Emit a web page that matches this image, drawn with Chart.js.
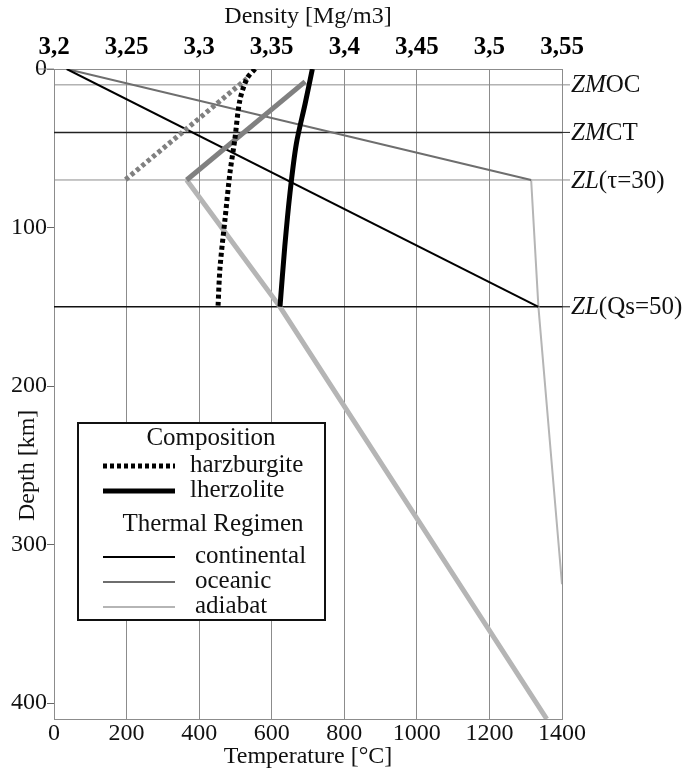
<!DOCTYPE html>
<html>
<head>
<meta charset="utf-8">
<script src="https://cdn.jsdelivr.net/npm/chart.js@4.4.1/dist/chart.umd.min.js"></script>
<style>
  html, body { margin: 0; padding: 0; background: #fff; }
  #wrap { width: 691px; height: 772px; }
</style>
</head>
<body>
<div id="wrap"><canvas id="geotherm" width="691" height="772"></canvas></div>
<script>
// tick labels
const tempTicks = [0, 200, 400, 600, 800, 1000, 1200, 1400];
const densityTicks = [3.2, 3.25, 3.3, 3.35, 3.4, 3.45, 3.5, 3.55];
const depthTicks = [0, 100, 200, 300, 400];

// reference depths (km) and their labels on the right
const refDepths = [10, 40, 70, 150];
const refLabels = [
  [["ZM", "italic"], ["OC", ""]],
  [["ZM", "italic"], ["CT", ""]],
  [["ZL", "italic"], ["(τ=30)", ""]],
  [["ZL", "italic"], ["(Qs=50)", ""]]
];

// thermal regimes: temperature (°C) vs depth (km)
const contDepth = [0, 150];
const contTemp = [35, 1335];
const oceDepth = [0, 70];
const oceTemp = [35, 1315];
const adiDepth = [70, 150, 325];
const adiTemp = [1315, 1335, 1400];

// density profiles (Mg/m3) vs depth (km)
const harzDepth = [0, 6, 20, 45, 65, 95, 125, 150];
const harzRho = [3.3385, 3.333, 3.328, 3.3245, 3.3213, 3.3178, 3.3144, 3.313];
const lherzDepth = [0, 22, 47, 78, 112, 150];
const lherzRho = [3.378, 3.373, 3.367, 3.3626, 3.359, 3.3557];
const harzOcDepth = [6, 70];
const harzOcRho = [3.333, 3.249];
const lherzOcDepth = [8, 70];
const lherzOcRho = [3.373, 3.2914];
const adiRhoDepth = [70, 150, 410];
const adiRho = [3.2914, 3.3557, 3.5395];

const SERIF = "'Liberation Serif', 'Times New Roman', serif";
const GRID = '#8c8c8c';
const OCE = '#6e6e6e';
const ADI = '#b5b5b5';

function pts(xs, ys) { return xs.map((x, i) => ({ x: x, y: ys[i] })); }
function comma(v) { return String(Math.round(v * 100) / 100).replace('.', ','); }

const base = { showLine: true, pointRadius: 0, fill: false, borderCapStyle: 'butt', tension: 0 };

const datasets = [
  Object.assign({}, base, { label: 'harzburgite', xAxisID: 'xD', data: pts(harzRho, harzDepth),
    borderColor: '#000', borderWidth: 5, borderDash: [4, 3], tension: 0.3 }),
  Object.assign({}, base, { label: 'lherzolite', xAxisID: 'xD', data: pts(lherzRho, lherzDepth),
    borderColor: '#000', borderWidth: 5, tension: 0.3 }),
  Object.assign({}, base, { label: 'harzburgite oc', xAxisID: 'xD', data: pts(harzOcRho, harzOcDepth),
    borderColor: '#808080', borderWidth: 5, borderDash: [4, 3] }),
  Object.assign({}, base, { label: 'lherzolite oc', xAxisID: 'xD', data: pts(lherzOcRho, lherzOcDepth),
    borderColor: '#808080', borderWidth: 5 }),
  Object.assign({}, base, { label: 'adiabat rho', xAxisID: 'xD', data: pts(adiRho, adiRhoDepth),
    borderColor: ADI, borderWidth: 5 }),
  Object.assign({}, base, { label: 'continental', xAxisID: 'x', data: pts(contTemp, contDepth),
    borderColor: '#000', borderWidth: 2 }),
  Object.assign({}, base, { label: 'oceanic', xAxisID: 'x', data: pts(oceTemp, oceDepth),
    borderColor: OCE, borderWidth: 2 }),
  Object.assign({}, base, { label: 'adiabat', xAxisID: 'x', data: pts(adiTemp, adiDepth),
    borderColor: ADI, borderWidth: 2 })
];

const refColors = ['#8c8c8c', '#222', '#8c8c8c', '#111'];
refDepths.forEach((d, i) => {
  datasets.push(Object.assign({}, base, { label: 'ref' + i, xAxisID: 'x',
    data: pts([tempTicks[0], tempTicks[tempTicks.length - 1]], [d, d]),
    borderColor: refColors[i], borderWidth: i % 2 ? 1.5 : 1 }));
});

// labels to the right of the reference lines, plus the depth title
const refLabelPlugin = {
  id: 'refLabels',
  afterDraw(chart) {
    const ctx = chart.ctx, area = chart.chartArea, ys = chart.scales.y;
    ctx.save();
    ctx.textBaseline = 'middle';
    ctx.fillStyle = '#111';
    refDepths.forEach((d, i) => {
      const py = ys.getPixelForValue(d);
      ctx.strokeStyle = refColors[i];
      ctx.lineWidth = 1;
      ctx.beginPath(); ctx.moveTo(area.right, py); ctx.lineTo(area.right + 8, py); ctx.stroke();
      let px = area.right + 9;
      refLabels[i].forEach(part => {
        ctx.font = (part[1] ? 'italic ' : '') + '25px ' + SERIF;
        ctx.fillText(part[0], px, py + 1);
        px += ctx.measureText(part[0]).width;
      });
    });
    // top frame line runs a little past the axis at depth 0
    ctx.strokeStyle = GRID;
    ctx.beginPath(); ctx.moveTo(area.left - 16, ys.getPixelForValue(0)); ctx.lineTo(area.left, ys.getPixelForValue(0)); ctx.stroke();
    // y title sits between the 200 and 300 ticks
    ctx.translate(28, ys.getPixelForValue(250));
    ctx.rotate(-Math.PI / 2);
    ctx.textAlign = 'center';
    ctx.font = '24px ' + SERIF;
    ctx.fillText('Depth [km]', 0, 0);
    ctx.restore();
  }
};

// boxed legend with two group headings
const boxLegendPlugin = {
  id: 'boxLegend',
  afterDraw(chart) {
    const ctx = chart.ctx, a = chart.chartArea;
    const x0 = a.left + 24, y0 = a.top + 354, w = 247, h = 197;
    ctx.save();
    ctx.fillStyle = '#fff';
    ctx.fillRect(x0, y0, w, h);
    ctx.strokeStyle = '#111';
    ctx.lineWidth = 2;
    ctx.strokeRect(x0, y0, w, h);
    ctx.fillStyle = '#111';
    ctx.textBaseline = 'middle';
    ctx.font = '25px ' + SERIF;
    ctx.textAlign = 'center';
    ctx.fillText('Composition', x0 + 133, y0 + 15);
    ctx.fillText('Thermal Regimen', x0 + 135, y0 + 101);
    ctx.textAlign = 'left';
    const rows = [
      ['harzburgite', y0 + 43, '#000', 5, [4, 3], x0 + 112],
      ['lherzolite', y0 + 68, '#000', 5, [], x0 + 112],
      ['continental', y0 + 134, '#000', 2, [], x0 + 117],
      ['oceanic', y0 + 159, OCE, 2, [], x0 + 117],
      ['adiabat', y0 + 184, ADI, 2, [], x0 + 117]
    ];
    rows.forEach(r => {
      ctx.strokeStyle = r[2];
      ctx.lineWidth = r[3];
      ctx.lineCap = 'butt';
      ctx.setLineDash(r[4]);
      ctx.beginPath(); ctx.moveTo(x0 + 25, r[1]); ctx.lineTo(x0 + 97, r[1]); ctx.stroke();
      ctx.setLineDash([]);
      ctx.fillText(r[0], r[5], r[1] - 1);
    });
    ctx.restore();
  }
};

const whiteBg = {
  id: 'whiteBg',
  beforeDraw(chart) {
    const ctx = chart.ctx;
    ctx.save(); ctx.fillStyle = '#fff'; ctx.fillRect(0, 0, chart.width, chart.height); ctx.restore();
  }
};

const tickFont = { family: SERIF, size: 24 };

new Chart(document.getElementById('geotherm').getContext('2d'), {
  type: 'scatter',
  data: { datasets: datasets },
  options: {
    responsive: false,
    animation: false,
    layout: { padding: { left: 0, right: 129, top: 0, bottom: 0 } },
    plugins: { legend: { display: false }, tooltip: { enabled: false } },
    scales: {
      x: {
        type: 'linear', position: 'bottom', min: 0, max: 1400,
        afterBuildTicks(s) { s.ticks = tempTicks.map(v => ({ value: v })); },
        ticks: { font: tickFont, color: '#111', padding: 0, maxRotation: 0, autoSkip: false, callback: v => String(v) },
        grid: { color: GRID, lineWidth: 1, drawTicks: false },
        border: { color: GRID },
        title: { display: true, text: 'Temperature [°C]', font: tickFont, color: '#111', padding: { top: 0, bottom: 1 } },
        afterFit(s) { s.height = 53; }
      },
      xD: {
        type: 'linear', position: 'top', min: 3.2, max: 3.55,
        afterBuildTicks(s) { s.ticks = densityTicks.map(v => ({ value: v })); },
        ticks: { font: { family: SERIF, size: 25, weight: 'bold' }, color: '#000', padding: 6,
          maxRotation: 0, autoSkip: false, callback: v => comma(v) },
        grid: { display: false, drawTicks: false },
        border: { display: true, color: GRID },
        title: { display: true, text: 'Density [Mg/m3]', font: tickFont, color: '#111', padding: { top: 2, bottom: 0 } },
        afterFit(s) { s.height = 69; }
      },
      y: {
        type: 'linear', reverse: true, min: 0, max: 410,
        afterBuildTicks(s) { s.ticks = depthTicks.map(v => ({ value: v })); },
        ticks: { font: tickFont, color: '#111', padding: 0, autoSkip: false, callback: v => String(v) },
        grid: { drawOnChartArea: false, tickLength: 7, color: '#666' },
        border: { color: GRID },
        title: { display: false },
        afterFit(s) { s.width = 54; }
      }
    }
  },
  plugins: [whiteBg, refLabelPlugin, boxLegendPlugin]
});
</script>
</body>
</html>
